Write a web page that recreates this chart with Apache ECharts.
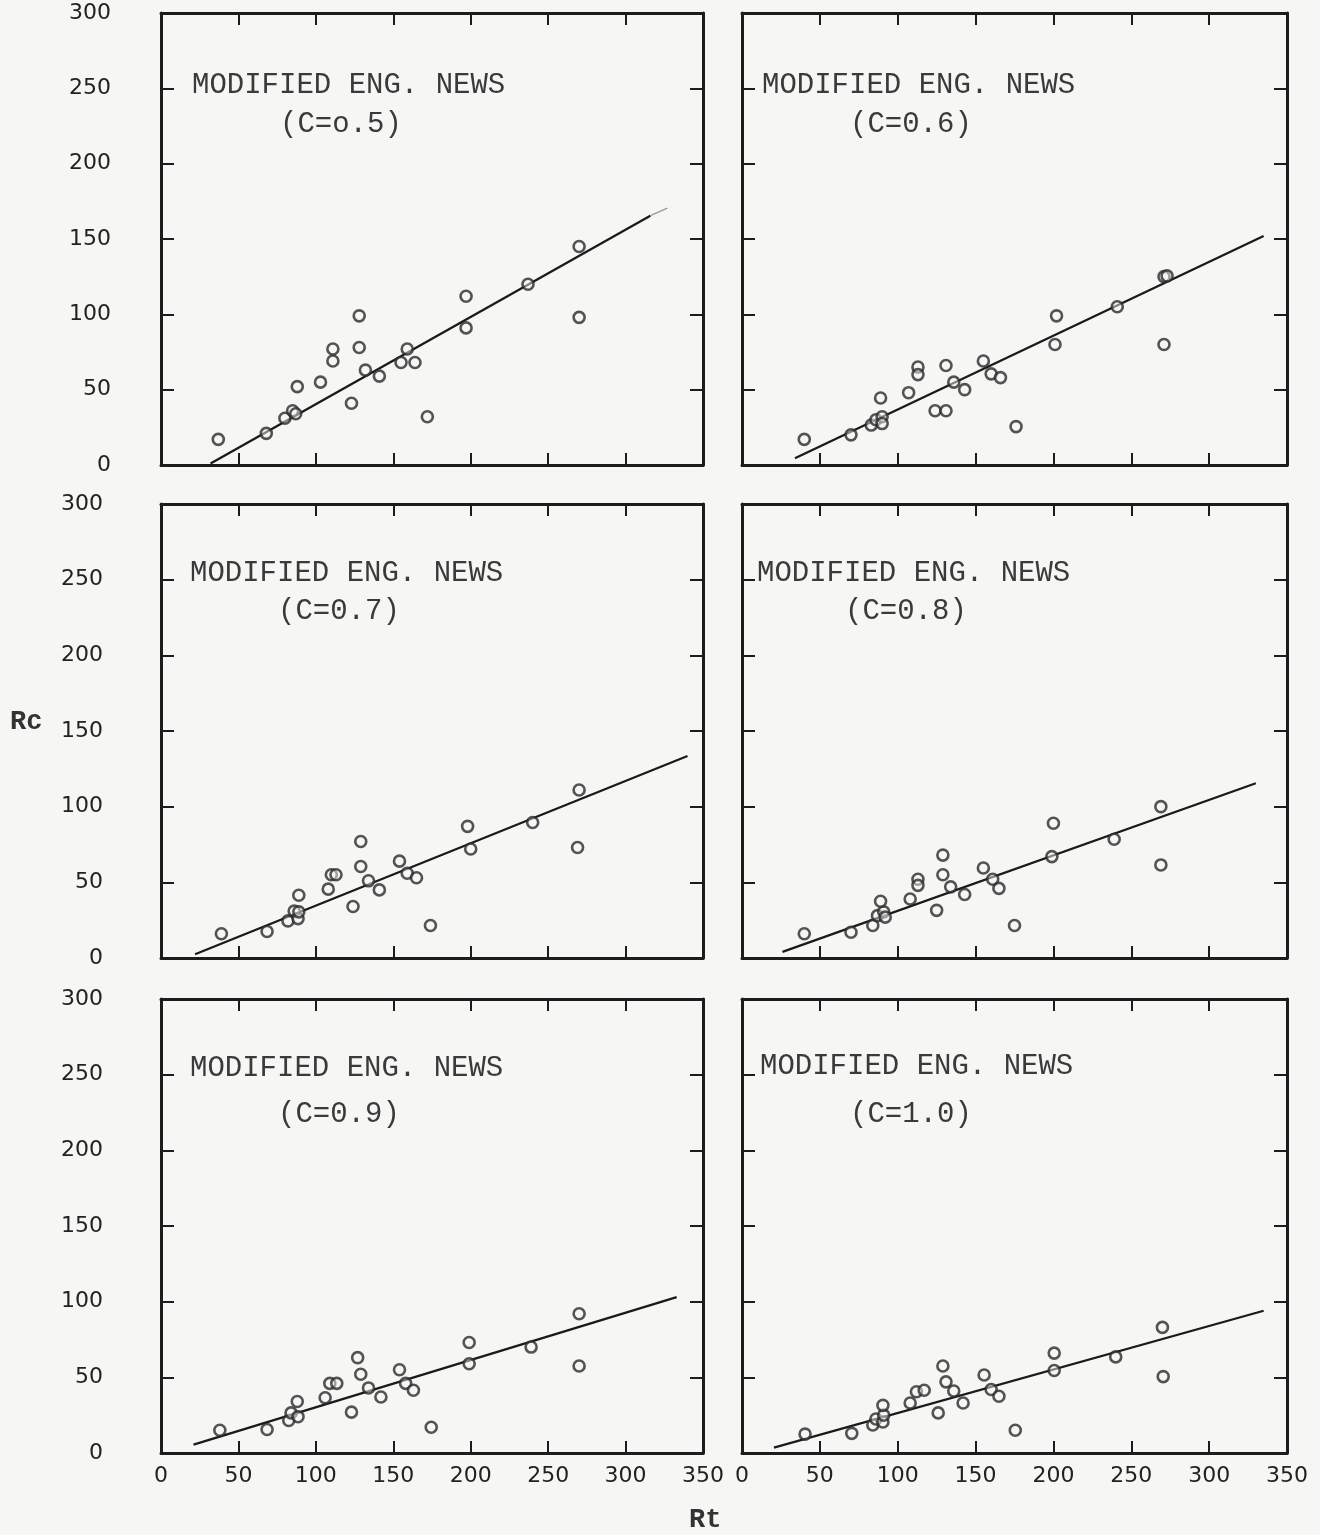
<!DOCTYPE html>
<html><head><meta charset="utf-8">
<script src="https://cdn.jsdelivr.net/npm/echarts@6/dist/echarts.min.js"></script>
<style>html,body{margin:0;padding:0;background:#f6f6f4}#c{width:1320px;height:1535px}</style>
</head><body><div id="c"></div>
<script>
// Axis ticks
const xTickValues = [0, 50, 100, 150, 200, 250, 300, 350];
const yTickValues = [0, 50, 100, 150, 200, 250, 300];

// Panel titles
const titleLine1 = 'MODIFIED ENG. NEWS';
const titleLine2 = ['(C=o.5)', '(C=0.6)', '(C=0.7)', '(C=0.8)', '(C=0.9)', '(C=1.0)'];

// Data: [Rt, Rc]
const pointsC05 = [[37,17],[68,21],[80,31],[85,36],[87,34],[88,52],[103,55],[111,77],[111,69],[123,41],[128,99],[128,78],[132,63],[141,59],[155,68],[159,77],[164,68],[172,32],[197,112],[197,91],[237,120],[270,145],[270,98]];
const pointsC06 = [[40,17],[70,20],[83,26.5],[86,30],[90,32],[90,27.5],[89,44.5],[107,48],[113,65],[113,60],[124,36],[131,36],[131,66],[136,55],[143,50],[155,69],[160,60.5],[166,58],[176,25.5],[202,99],[201,80],[241,105],[271,80],[271,125],[273,125.5]];
const pointsC07 = [[39,16],[68.5,17.5],[82,24.5],[86,31],[88.5,26],[89,30.5],[89,41.5],[108,45.5],[110,55],[113,55],[124,34],[129,77],[129,60.5],[134,51],[141,45],[154,64],[159,56],[165,53],[174,21.5],[198,87],[200,72],[240,89.5],[270,111],[269,73]];
const pointsC08 = [[40,16],[70,17],[84,21.5],[87,28],[91,30.5],[92,27],[89,37.5],[108,39],[113,52],[113,48],[125,31.5],[129,68],[129,55],[134,47],[143,42],[155,59.5],[161,52],[165,46],[175,21.5],[200,89],[199,67],[239,78.5],[269,100],[269,61.5]];
const pointsC09 = [[38,15],[68.5,15.5],[82.5,21.5],[84,26.5],[88.5,24],[88,34],[106,36.5],[109,46],[113.5,46],[123,27],[127,63],[129,52],[134,43],[142,37],[154,55],[158,46],[163,41.5],[174.5,17],[199,73],[199,59],[239,70],[270,92],[270,57.5]];
const pointsC10 = [[40.5,12.5],[70.5,13],[84,18.5],[86,22.5],[90.5,20.5],[91,25],[90.5,31.5],[108,33],[112,40.5],[117,41.5],[126,26.5],[129,57.5],[131,47],[136,41],[142,33],[155.5,51.5],[160,42],[165,37.5],[175.5,15],[200.5,66],[200.5,54.5],[240,63.5],[270,83],[270.5,50.5]];

// Fitted lines: [Rt, Rc] end points
const lineC05 = [[32,1],[316,165.5]];
const lineC05faint = [[316,165.5],[327,170.5]];
const lineC06 = [[34,4.5],[335,152]];
const lineC07 = [[22,2.5],[340,133.5]];
const lineC08 = [[26,4],[330,115.5]];
const lineC09 = [[21,5.5],[333,103]];
const lineC10 = [[20.5,3.5],[335,94]];

const allPoints = [pointsC05, pointsC06, pointsC07, pointsC08, pointsC09, pointsC10];
const allLines = [lineC05, lineC06, lineC07, lineC08, lineC09, lineC10];

// Layout
const colLeft = [161, 742], colWidth = [542, 545];
const rowTop = [13, 504, 999], rowHeight = [452, 454, 454];
const yLabelMargin = [50, 58, 58];
const titlePos = [
  [[192,85],[280,124]], [[762,85],[850,124]],
  [[190,573],[278,611]], [[757,573],[845,611]],
  [[190,1068],[278,1114]], [[760,1066],[850,1114]]
];

const ink = '#1c1c1c';
const lineStyle = {color: ink, width: 3};
const tickStyle = {color: ink, width: 2};
const labelFont = {fontFamily: 'DejaVu Sans', fontSize: 22, color: '#222'};

const grids = [], xAxes = [], yAxes = [], series = [], graphics = [];
for (let i = 0; i < 6; i++) {
  const r = Math.floor(i / 2), c = i % 2;
  grids.push({left: colLeft[c], top: rowTop[r], width: colWidth[c], height: rowHeight[r], containLabel: false});
  const xBase = {gridIndex: i, type: 'value', min: xTickValues[0], max: xTickValues[xTickValues.length-1], interval: 50,
    axisLine: {show: true, onZero: false, lineStyle}, axisTick: {show: true, inside: true, length: 12, lineStyle: tickStyle},
    splitLine: {show: false}};
  xAxes.push(Object.assign({}, xBase, {position: 'bottom',
    axisLabel: {show: r === 2, margin: 12, ...labelFont}}));
  xAxes.push(Object.assign({}, xBase, {position: 'top', axisLabel: {show: false}}));
  const yBase = {gridIndex: i, type: 'value', min: yTickValues[0], max: yTickValues[yTickValues.length-1], interval: 50,
    axisLine: {show: true, onZero: false, lineStyle}, axisTick: {show: true, inside: true, length: 13, lineStyle: tickStyle},
    splitLine: {show: false}};
  yAxes.push(Object.assign({}, yBase, {position: 'left',
    axisLabel: {show: c === 0, margin: yLabelMargin[r], ...labelFont}}));
  yAxes.push(Object.assign({}, yBase, {position: 'right', axisLabel: {show: false}}));

  series.push({type: 'line', xAxisIndex: 2*i, yAxisIndex: 2*i, data: allLines[i], symbol: 'none',
    lineStyle: {color: '#1a1a1a', width: 2.3}, silent: true, z: 2});
  series.push({type: 'scatter', xAxisIndex: 2*i, yAxisIndex: 2*i, data: allPoints[i], symbol: 'circle', symbolSize: 11,
    itemStyle: {color: 'rgba(246,246,244,0.6)', borderColor: '#2a2a2a', borderWidth: 2.6}, z: 3});

  graphics.push({type: 'text', x: titlePos[i][0][0], y: titlePos[i][0][1],
    style: {text: titleLine1, font: '29px "Liberation Mono"', fill: '#3a3a3a', textVerticalAlign: 'middle'}});
  graphics.push({type: 'text', x: titlePos[i][1][0], y: titlePos[i][1][1],
    style: {text: titleLine2[i], font: '29px "Liberation Mono"', fill: '#3a3a3a', textVerticalAlign: 'middle'}});
}
series.push({type: 'line', xAxisIndex: 0, yAxisIndex: 0, data: lineC05faint, symbol: 'none',
  lineStyle: {color: '#9a9a9a', width: 1.5}, silent: true, z: 2});

graphics.push({type: 'text', x: 10, y: 722, style: {text: 'Rc', font: 'bold 27px "Liberation Mono"', fill: '#333', textVerticalAlign: 'middle'}});
graphics.push({type: 'text', x: 689, y: 1520, style: {text: 'Rt', font: 'bold 27px "Liberation Mono"', fill: '#333', textVerticalAlign: 'middle'}});

const chart = echarts.init(document.getElementById('c'), null, {renderer: 'canvas'});
chart.setOption({
  backgroundColor: '#f6f6f4',
  animation: false,
  grid: grids, xAxis: xAxes, yAxis: yAxes, series: series, graphic: graphics
});
</script>
</body></html>
